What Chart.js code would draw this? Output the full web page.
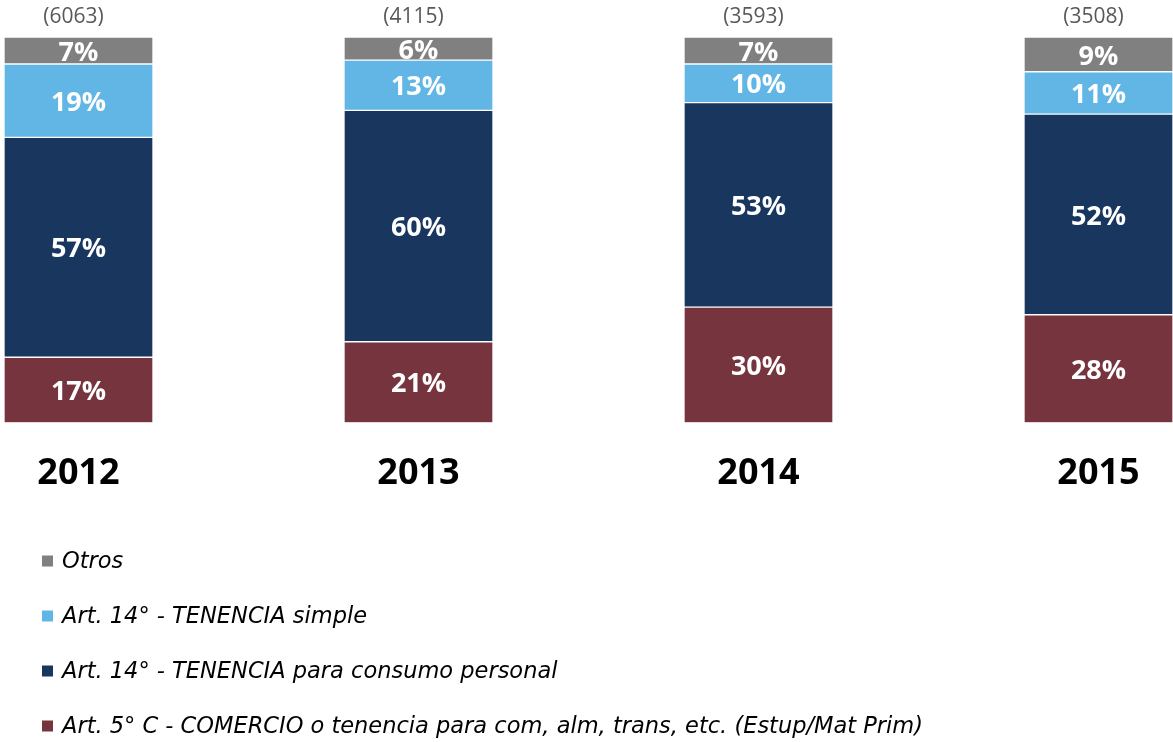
<!DOCTYPE html>
<html>
<head>
<meta charset="utf-8">
<script src="https://cdn.jsdelivr.net/npm/chart.js@4/dist/chart.umd.min.js"></script>
<style>
  html, body { margin: 0; padding: 0; background: #fff; }
  #wrap { position: relative; width: 1173px; height: 742px; }
</style>
</head>
<body>
<div id="wrap"><canvas id="chart"></canvas></div>
<script>
/* ====== 数据 ====== */
const years = ["2012", "2013", "2014", "2015"];
const totals = [6063, 4115, 3593, 3508];
const comercio = [17, 21, 30, 28]; // Art. 5° C
const consumo = [57, 60, 53, 52];  // tenencia consumo personal
const simple = [19, 13, 10, 11];   // tenencia simple
const otros = [7, 6, 7, 9];

const seriesNames = [
  "Art. 5° C - COMERCIO o tenencia para com, alm, trans, etc. (Estup/Mat Prim)",
  "Art. 14° - TENENCIA para consumo personal",
  "Art. 14° - TENENCIA simple",
  "Otros",
];
const seriesColors = ["#76343e", "#18365e", "#62b6e6", "#808080"];

const toPoints = (arr) => arr.map((v, i) => ({ x: i, y: v }));

/* ====== 标签插件 ====== */
const labelPlugin = {
  id: "labels",
  afterDatasetsDraw(chart) {
    const { ctx } = chart;
    ctx.save();
    ctx.textAlign = "center";
    ctx.textBaseline = "middle";
    // 百分比
    ctx.fillStyle = "#fff";
    ctx.font = "bold 27px 'Open Sans'";
    chart.data.datasets.forEach((ds, di) => {
      chart.getDatasetMeta(di).data.forEach((el, i) => {
        ctx.fillText(ds.data[i].y + "%", el.x, (el.y + el.base) / 2 + 2.5);
      });
    });
    // 总数
    ctx.fillStyle = "#595959";
    ctx.font = "21px 'Open Sans'";
    const yTop = chart.scales.y.getPixelForValue(100);
    totals.forEach((t, i) => {
      ctx.fillText("(" + t + ")", chart.scales.x.getPixelForValue(i) - 5, yTop - 20);
    });
    ctx.restore();
  },
  afterDraw(chart) {
    // 竖排图例（从上到下：Otros → Art. 5°）
    const { ctx } = chart;
    ctx.save();
    ctx.textBaseline = "middle";
    ctx.textAlign = "left";
    ctx.font = "oblique 22.5px 'DejaVu Sans'";
    const list = [...chart.data.datasets].reverse();
    list.forEach((ds, k) => {
      const y = 561 + k * 55;
      ctx.fillStyle = ds.backgroundColor;
      ctx.fillRect(42, y - 5.5, 11, 11);
      ctx.fillStyle = "#000";
      ctx.fillText(ds.label, 62, y + 1);
    });
    ctx.restore();
  },
};

/* ====== Chart ====== */
const seriesData = [comercio, consumo, simple, otros];
new Chart(document.getElementById("chart"), {
  type: "bar",
  data: {
    datasets: seriesData.map((arr, i) => ({
      label: seriesNames[i],
      data: toPoints(arr),
      backgroundColor: seriesColors[i],
      borderColor: "#fff",
      borderWidth: 1,
      borderSkipped: false,
      barThickness: 149,
    })),
  },
  options: {
    responsive: true,
    maintainAspectRatio: false,
    animation: false,
    layout: { padding: { top: 37, bottom: 217, left: 0, right: 0 } },
    plugins: { legend: { display: false }, tooltip: { enabled: false } },
    scales: {
      x: {
        type: "linear",
        stacked: true,
        offset: false,
        min: -78.5 / 340,
        max: (1173 - 78.5) / 340,
        afterBuildTicks: (axis) => {
          axis.ticks = years.map((_, i) => ({ value: i }));
        },
        grid: { display: false, drawTicks: false },
        border: { display: false },
        ticks: {
          padding: 29.5,
          color: "#000",
          font: { family: "'Open Sans'", size: 36, weight: "bold" },
          callback: (v) => years[v] ?? "",
        },
      },
      y: {
        stacked: true,
        display: false,
        min: 0,
        max: 100,
      },
    },
  },
  plugins: [labelPlugin],
});
</script>
</body>
</html>
